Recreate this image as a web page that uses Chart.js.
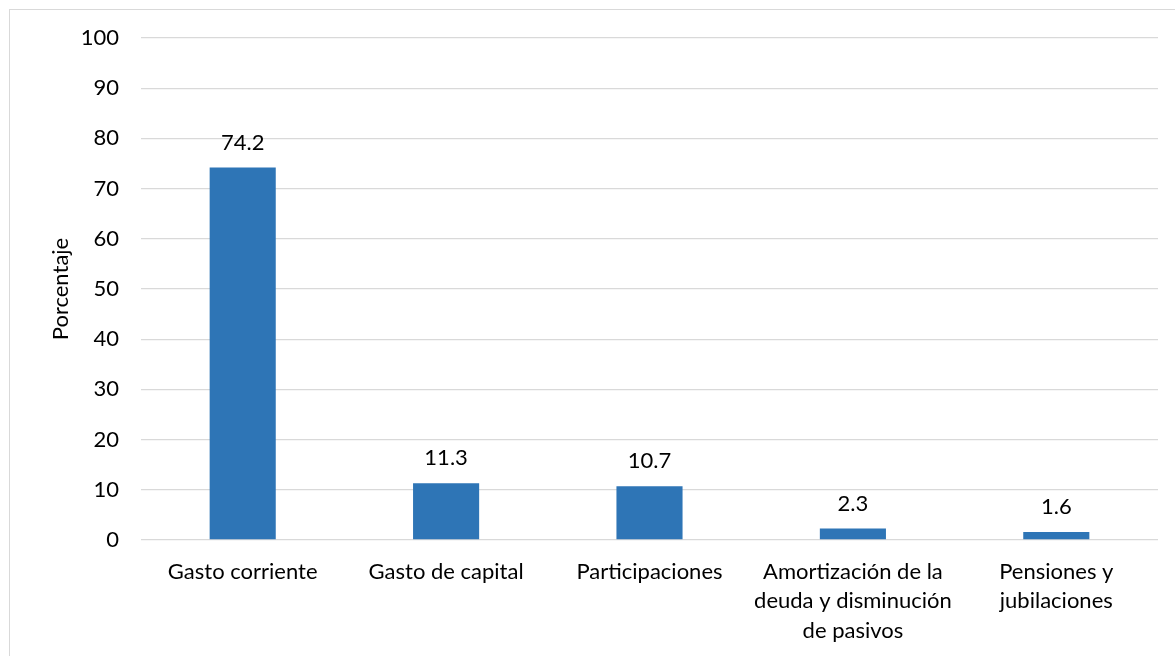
<!DOCTYPE html>
<html>
<head>
<meta charset="utf-8">
<script src="https://cdn.jsdelivr.net/npm/chart.js@4/dist/chart.umd.min.js"></script>
<style>
  html, body { margin: 0; padding: 0; background: #ffffff; }
  #wrap { position: relative; width: 1175px; height: 656px; overflow: hidden; }
  #frame { position: absolute; left: 9px; top: 9px; width: 1180px; height: 660px; border: 1px solid #d9d9d9; box-sizing: border-box; pointer-events: none; }
  canvas { position: absolute; left: 0; top: 0; }
</style>
</head>
<body>
<div id="wrap">
  <canvas id="c" width="1175" height="656"></canvas>
  <div id="frame"></div>
</div>
<script>
const categories = [
  "Gasto corriente",
  "Gasto de capital",
  "Participaciones",
  ["Amortización de la", "deuda y disminución", "de pasivos"],
  ["Pensiones y", "jubilaciones"]
];
const values = [74.2, 11.3, 10.7, 2.3, 1.6];
const yTicks = [0, 10, 20, 30, 40, 50, 60, 70, 80, 90, 100];
const axisTitle = "Porcentaje";

const FONT = "Lato";
const TEXT = "#000000";
const FS = 22;

const valueLabels = {
  id: "valueLabels",
  afterDatasetsDraw(chart) {
    const ctx = chart.ctx;
    ctx.save();
    ctx.font = FS + "px " + FONT;
    ctx.fillStyle = TEXT;
    ctx.textAlign = "center";
    ctx.textBaseline = "middle";
    chart.getDatasetMeta(0).data.forEach((bar, i) => {
      ctx.fillText(values[i].toFixed(1), bar.x, bar.y - 25);
    });
    ctx.restore();
  }
};

new Chart(document.getElementById("c"), {
  type: "bar",
  data: {
    labels: categories,
    datasets: [{
      data: values,
      backgroundColor: "#2E75B6",
      borderWidth: 0,
      categoryPercentage: 1,
      barPercentage: 0.325
    }]
  },
  options: {
    responsive: false,
    animation: false,
    devicePixelRatio: 1,
    layout: { padding: { left: 48, top: 38, right: 17, bottom: 0 } },
    plugins: { legend: { display: false }, tooltip: { enabled: false } },
    scales: {
      x: {
        grid: { display: false, drawTicks: false },
        border: { display: false },
        ticks: {
          color: TEXT,
          font: { family: FONT, size: FS, lineHeight: 1.34 },
          padding: 17,
          autoSkip: false,
          maxRotation: 0,
          minRotation: 0
        },
        afterFit(scale) { scale.height = 116; }
      },
      y: {
        min: 0,
        max: 100,
        afterBuildTicks(scale) { scale.ticks = yTicks.map(v => ({ value: v })); },
        grid: { color: "#d9d9d9", lineWidth: 1.3, drawTicks: false },
        border: { display: false },
        ticks: {
          color: TEXT,
          font: { family: FONT, size: FS },
          padding: 22
        },
        title: {
          display: true,
          text: axisTitle,
          color: TEXT,
          font: { family: FONT, size: FS },
          padding: { top: 0, bottom: 0 }
        },
        afterFit(scale) { scale.width = 93; }
      }
    }
  },
  plugins: [valueLabels]
});
</script>
</body>
</html>
